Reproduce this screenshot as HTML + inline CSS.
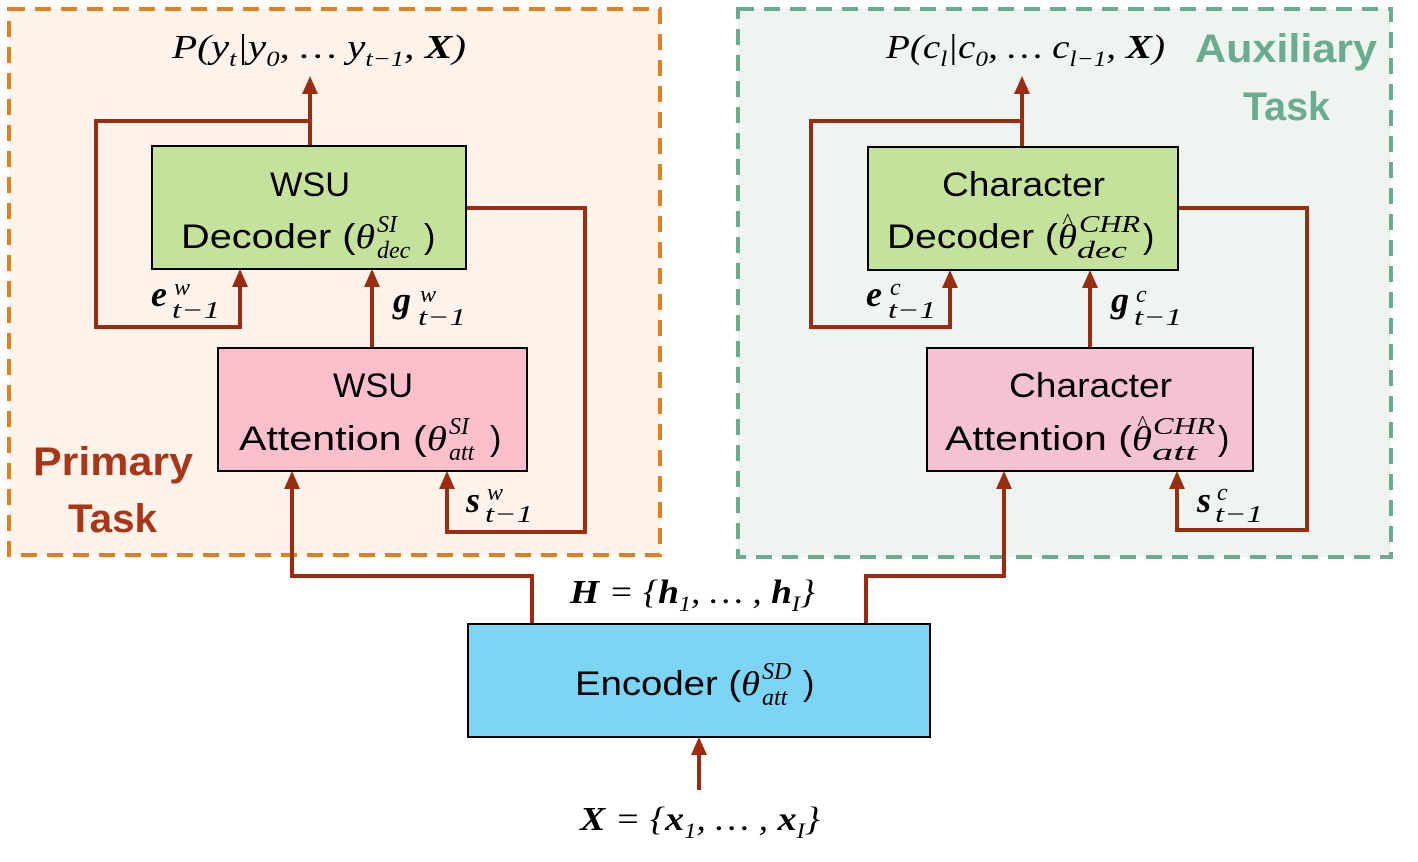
<!DOCTYPE html>
<html><head><meta charset="utf-8"><style>
body{margin:0;background:#fff;}
svg text{font-family:"Liberation Sans",sans-serif;}
.m{font-family:"Liberation Serif",serif;font-style:italic;}
</style></head><body>
<svg width="1418" height="857" viewBox="0 0 1418 857" xmlns="http://www.w3.org/2000/svg">
<rect x="9" y="9" width="651" height="546" fill="#fdf3ea" stroke="#e0801e" stroke-width="4" stroke-dasharray="16,10"/>
<rect x="738" y="9" width="653" height="548" fill="#eef4f0" stroke="#6aab92" stroke-width="4" stroke-dasharray="16,10"/>
<g fill="none" stroke="#9a2c10" stroke-width="4">
<path d="M310,146 V92"/>
<path d="M310,121 H96 V327 H240 V284"/>
<path d="M372,348 V284"/>
<path d="M466,208 H585 V532 H447 V486"/>
<path d="M532,624 V576 H292 V486"/>
<path d="M1022,147 V92"/>
<path d="M1022,121 H811 V327 H950 V285"/>
<path d="M1090,348 V285"/>
<path d="M1178,208 H1307 V530 H1177 V486"/>
<path d="M866,624 V576 H1004 V486"/>
<path d="M699,790 V752"/>
</g>
<g fill="#9a2c10">
<polygon points="310,76 302,94 318,94"/>
<polygon points="240,269 232,287 248,287"/>
<polygon points="372,269 364,287 380,287"/>
<polygon points="447,471 439,489 455,489"/>
<polygon points="292,471 284,489 300,489"/>
<polygon points="1022,76 1014,94 1030,94"/>
<polygon points="950,270 942,288 958,288"/>
<polygon points="1090,270 1082,288 1098,288"/>
<polygon points="1177,471 1169,489 1185,489"/>
<polygon points="1004,471 996,489 1012,489"/>
<polygon points="699,737 691,755 707,755"/>
</g>
<g stroke="#000" stroke-width="2">
<rect x="152" y="146" width="314" height="123" fill="#c5e29d"/>
<rect x="218" y="348" width="309" height="123" fill="#fbc0cc"/>
<rect x="868" y="147" width="310" height="123" fill="#c5e29d"/>
<rect x="927" y="348" width="326" height="123" fill="#f4c2d0"/>
<rect x="468" y="624" width="462" height="113" fill="#7dd5f6"/>
</g>
<g font-size="34" fill="#000">
<text x="270" y="196" textLength="80" lengthAdjust="spacingAndGlyphs">WSU</text>
<text x="181" y="248" textLength="194" lengthAdjust="spacingAndGlyphs">Decoder (<tspan class="m">θ</tspan></text>
<text class="m" x="377" y="232" font-size="24">SI</text><text class="m" x="377" y="258" font-size="24">dec</text><text x="424" y="248">)</text>
<text x="333" y="397" textLength="80" lengthAdjust="spacingAndGlyphs">WSU</text>
<text x="239" y="450" textLength="208" lengthAdjust="spacingAndGlyphs">Attention (<tspan class="m">θ</tspan></text>
<text class="m" x="449" y="434" font-size="24">SI</text><text class="m" x="449" y="460" font-size="24">att</text><text x="490" y="450">)</text>
<text x="942" y="196" textLength="163" lengthAdjust="spacingAndGlyphs">Character</text>
<text x="887" y="248" textLength="190" lengthAdjust="spacingAndGlyphs">Decoder (<tspan class="m">θ</tspan></text>
<text class="m" x="1062" y="228" font-size="22">^</text>
<text class="m" x="1079" y="232" font-size="24" textLength="61" lengthAdjust="spacingAndGlyphs">CHR</text><text class="m" x="1077" y="258" font-size="24" textLength="50" lengthAdjust="spacingAndGlyphs">dec</text><text x="1143" y="248">)</text>
<text x="1009" y="397" textLength="163" lengthAdjust="spacingAndGlyphs">Character</text>
<text x="945" y="450" textLength="207" lengthAdjust="spacingAndGlyphs">Attention (<tspan class="m">θ</tspan></text>
<text class="m" x="1137" y="430" font-size="22">^</text>
<text class="m" x="1153" y="434" font-size="24" textLength="62" lengthAdjust="spacingAndGlyphs">CHR</text><text class="m" x="1152" y="460" font-size="24" textLength="45" lengthAdjust="spacingAndGlyphs">att</text><text x="1218" y="450">)</text>
<text x="575" y="695" textLength="185" lengthAdjust="spacingAndGlyphs">Encoder (<tspan class="m">θ</tspan></text>
<text class="m" x="762" y="679" font-size="24">SD</text><text class="m" x="762" y="705" font-size="24">att</text><text x="803" y="695">)</text>
</g>
<g font-size="34" fill="#000">
<text class="m" x="172" y="58" textLength="294" lengthAdjust="spacingAndGlyphs">P(y<tspan font-size="22" dy="8">t</tspan><tspan dy="-8">|y</tspan><tspan font-size="22" dy="8">0</tspan><tspan dy="-8">, … y</tspan><tspan font-size="22" dy="8">t−1</tspan><tspan dy="-8">, </tspan><tspan font-weight="bold">X</tspan>)</text>
<text class="m" x="886" y="58" textLength="279" lengthAdjust="spacingAndGlyphs">P(c<tspan font-size="22" dy="8">l</tspan><tspan dy="-8">|c</tspan><tspan font-size="22" dy="8">0</tspan><tspan dy="-8">, … c</tspan><tspan font-size="22" dy="8">l−1</tspan><tspan dy="-8">, </tspan><tspan font-weight="bold">X</tspan>)</text>
<text class="m" x="570" y="603" textLength="245" lengthAdjust="spacingAndGlyphs"><tspan font-weight="bold">H</tspan> = {<tspan font-weight="bold">h</tspan><tspan font-size="22" dy="8">1</tspan><tspan dy="-8">, … , </tspan><tspan font-weight="bold">h</tspan><tspan font-size="22" dy="8">I</tspan><tspan dy="-8">}</tspan></text>
<text class="m" x="580" y="830" textLength="240" lengthAdjust="spacingAndGlyphs"><tspan font-weight="bold">X</tspan> = {<tspan font-weight="bold">x</tspan><tspan font-size="22" dy="8">1</tspan><tspan dy="-8">, … , </tspan><tspan font-weight="bold">x</tspan><tspan font-size="22" dy="8">I</tspan><tspan dy="-8">}</tspan></text>
</g>
<g fill="#000" font-size="24">
<text class="m" x="151" y="306" font-size="36" font-weight="bold">e</text><text class="m" x="174" y="295">w</text><text class="m" x="172" y="318" textLength="48" lengthAdjust="spacingAndGlyphs">t−1</text>
<text class="m" x="393" y="312" font-size="36" font-weight="bold">g</text><text class="m" x="420" y="302">w</text><text class="m" x="418" y="325" textLength="48" lengthAdjust="spacingAndGlyphs">t−1</text>
<text class="m" x="466" y="512" font-size="36" font-weight="bold">s</text><text class="m" x="487" y="500">w</text><text class="m" x="485" y="522" textLength="48" lengthAdjust="spacingAndGlyphs">t−1</text>
<text class="m" x="866" y="306" font-size="36" font-weight="bold">e</text><text class="m" x="890" y="295">c</text><text class="m" x="888" y="318" textLength="48" lengthAdjust="spacingAndGlyphs">t−1</text>
<text class="m" x="1111" y="312" font-size="36" font-weight="bold">g</text><text class="m" x="1136" y="302">c</text><text class="m" x="1134" y="325" textLength="48" lengthAdjust="spacingAndGlyphs">t−1</text>
<text class="m" x="1197" y="512" font-size="36" font-weight="bold">s</text><text class="m" x="1217" y="500">c</text><text class="m" x="1215" y="522" textLength="48" lengthAdjust="spacingAndGlyphs">t−1</text>
</g>
<g font-size="40" font-weight="bold">
<text x="33" y="475" fill="#a8371a" textLength="160" lengthAdjust="spacingAndGlyphs">Primary</text>
<text x="68" y="532" fill="#a8371a" textLength="89" lengthAdjust="spacingAndGlyphs">Task</text>
<text x="1195" y="62" fill="#6aab92" textLength="182" lengthAdjust="spacingAndGlyphs">Auxiliary</text>
<text x="1243" y="120" fill="#6aab92" textLength="87" lengthAdjust="spacingAndGlyphs">Task</text>
</g>
</svg>
</body></html>
